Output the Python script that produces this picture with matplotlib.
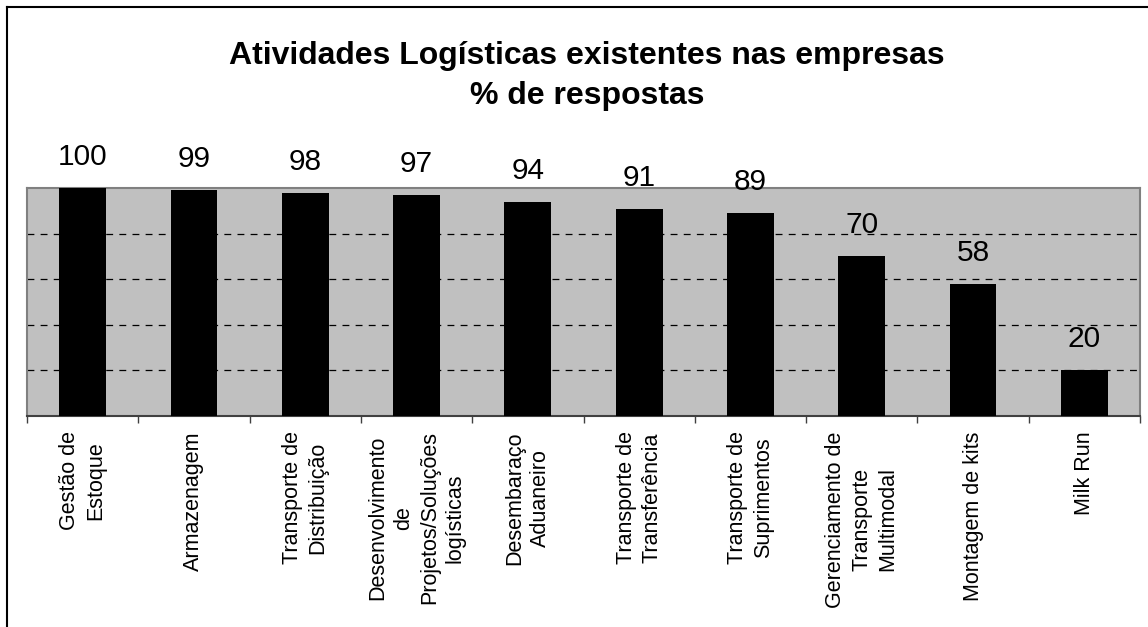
import matplotlib
matplotlib.use("Agg")
import matplotlib.pyplot as plt
from matplotlib.lines import Line2D

categories = [
    "Gestão de\nEstoque",
    "Armazenagem",
    "Transporte de\nDistribuição",
    "Desenvolvimento\nde\nProjetos/Soluções\nlogísticas",
    "Desembaraço\nAduaneiro",
    "Transporte de\nTransferência",
    "Transporte de\nSuprimentos",
    "Gerenciamento de\nTransporte\nMultimodal",
    "Montagem de kits",
    "Milk Run",
]
values = [100, 99, 98, 97, 94, 91, 89, 70, 58, 20]
title_text = "Atividades Logísticas existentes nas empresas\n% de respostas"

plt.rcParams['font.family'] = ['Liberation Sans', 'DejaVu Sans']

W, H = 1148, 627
fig = plt.figure(figsize=(W / 100, H / 100), dpi=100)
fig.patch.set_facecolor('white')

ax = fig.add_axes([27 / W, 1 - 416 / H, (1140 - 27) / W, (416 - 188) / H])
ax.set_facecolor('#C0C0C0')

x = list(range(len(values)))
ax.bar(x, values, width=0.42, color='black', zorder=3)

ax.set_xlim(-0.5, len(values) - 0.5)
ax.set_ylim(0, 100)
ax.set_yticks([])
for yv in [20, 40, 60, 80]:
    ax.axhline(yv, color='black', lw=0.9, linestyle=(0, (5.5, 5)), zorder=1)

for xi, v in zip(x, values):
    ax.annotate(str(v), (xi, v), xytext=(0, 16.5), textcoords='offset points',
                ha='center', va='baseline', fontsize=21.5, color='black')

ax.set_xticks(x)
ax.set_xticklabels(categories, rotation=90, ha='center', va='top',
                   multialignment='center', fontsize=15.5, linespacing=1.3)
ax.tick_params(axis='x', which='major', length=0, pad=11)
ax.set_xticks([i - 0.5 for i in range(len(values) + 1)], minor=True)
ax.tick_params(axis='x', which='minor', length=5, width=1, color='#404040', direction='out')

for s in ['top', 'left', 'right']:
    ax.spines[s].set_color('#808080')
    ax.spines[s].set_linewidth(1.5)
ax.spines['bottom'].set_color('#404040')
ax.spines['bottom'].set_linewidth(1.5)

fig.text(587 / W, 1 - 76 / H, title_text, ha='center', va='center',
         fontsize=23, fontweight='bold', linespacing=1.4)

fig.add_artist(Line2D([7 / W, 1], [1 - 7 / H, 1 - 7 / H], color='black', lw=1.5,
                      transform=fig.transFigure))
fig.add_artist(Line2D([7 / W, 7 / W], [0, 1 - 7 / H], color='black', lw=1.5,
                      transform=fig.transFigure))

fig.savefig('out.png', dpi=100, facecolor='white')
